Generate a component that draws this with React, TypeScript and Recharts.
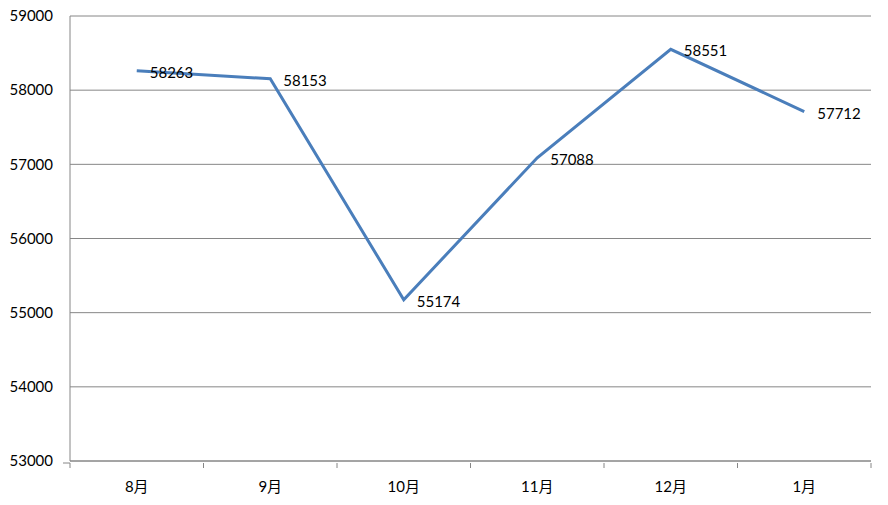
import { LineChart, Line, XAxis, YAxis, CartesianGrid, LabelList } from 'recharts';

const months = ['8月', '9月', '10月', '11月', '12月', '1月'];
const counts = [58263, 58153, 55174, 57088, 58551, 57712];
const yTicks = [53000, 54000, 55000, 56000, 57000, 58000, 59000];

const data = months.map((m, i) => ({ month: m, value: counts[i] }));

const FONT = 'Lato, "Noto Sans CJK SC", sans-serif';
const GRID = '#868686';
const BAND = (871 - 70) / months.length;

const MonthTick = (props: any) => {
  const { x, y, payload, index } = props;
  const left = x - BAND / 2;
  return (
    <g>
      <line x1={left} y1={y} x2={left} y2={y + 5} stroke={GRID} />
      {index === 0 && <line x1={left - 7} y1={y} x2={left} y2={y} stroke={GRID} />}
      {index === months.length - 1 && (
        <line x1={x + BAND / 2} y1={y} x2={x + BAND / 2} y2={y + 5} stroke={GRID} />
      )}
      <text x={x} y={y + 23} textAnchor="middle" dominantBaseline="central" fontSize={15} fontFamily={FONT} fill="#000">
        {payload.value}
      </text>
    </g>
  );
};

const ValueLabel = (props: any) => {
  const { x, y, value } = props;
  return (
    <text x={x + 13} y={y + 1} dominantBaseline="central" fontSize={15} fontFamily={FONT} fill="#000">
      {value}
    </text>
  );
};

export default function App() {
  return (
    <div style={{ position: 'absolute', left: 0, top: 0, background: '#fff' }}>
      <LineChart width={888} height={505} data={data} margin={{ top: 16, right: 17, left: 0, bottom: 0 }}>
        <CartesianGrid vertical={false} stroke={GRID} />
        <XAxis
          dataKey="month"
          scale="band"
          height={44}
          axisLine={{ stroke: GRID }}
          tickLine={false}
          tickSize={0}
          tick={<MonthTick />}
          interval={0}
        />
        <YAxis
          width={70}
          domain={[53000, 59000]}
          ticks={yTicks}
          axisLine={{ stroke: GRID }}
          tickLine={false}
          tickSize={0}
          tickMargin={17}
          tick={{ fontSize: 15, fontFamily: FONT, fill: '#000' }}
        />
        <Line
          type="linear"
          dataKey="value"
          stroke="#4A7EBB"
          strokeWidth={3}
          dot={false}
          isAnimationActive={false}
        >
          <LabelList dataKey="value" content={<ValueLabel />} />
        </Line>
      </LineChart>
    </div>
  );
}
